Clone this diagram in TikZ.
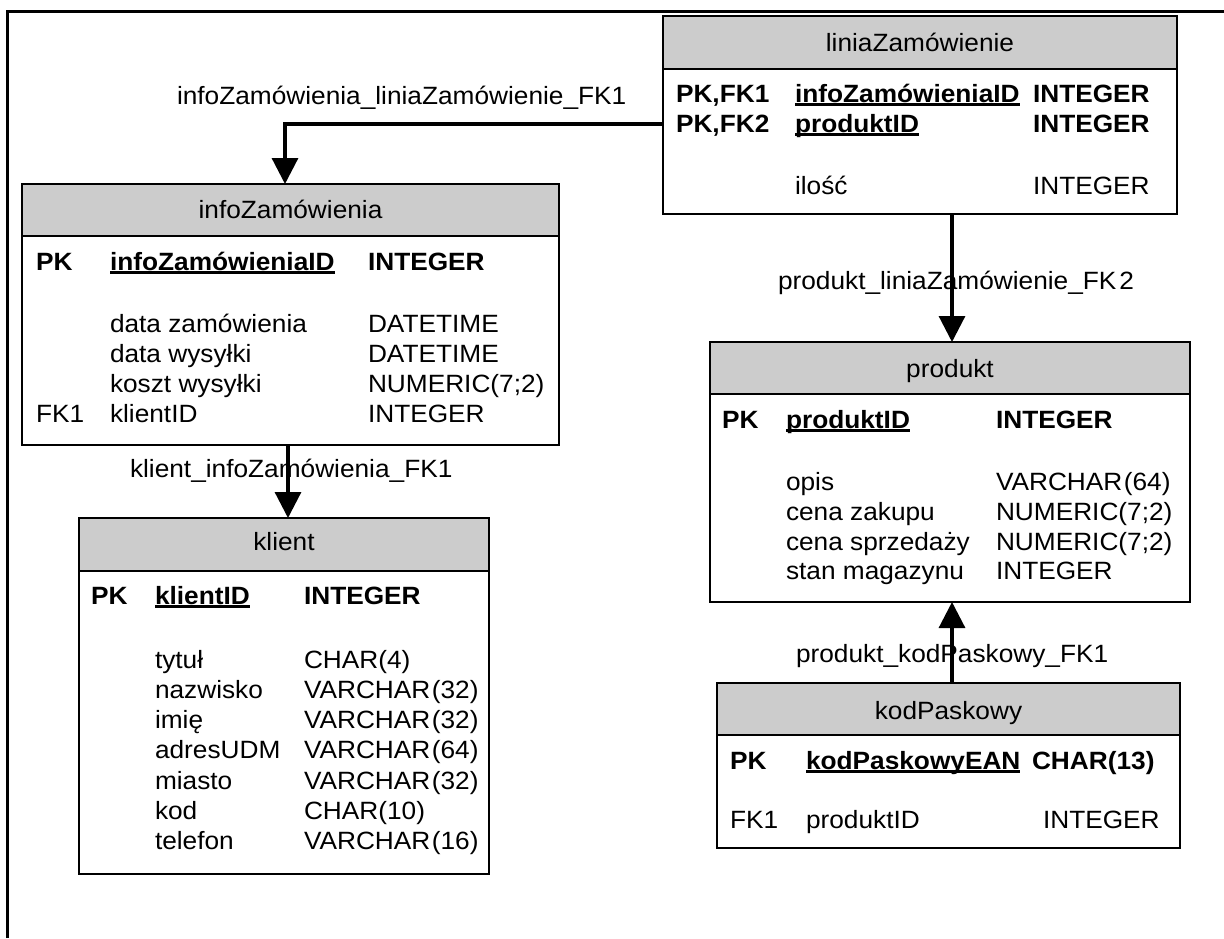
\documentclass[tikz,border=0pt]{standalone}
\usepackage{fontspec}
\setmainfont{Liberation Sans}[FakeStretch=1.05]
\usetikzlibrary{arrows.meta}
\definecolor{hdrgray}{RGB}{204,204,204}
% underlined column name (primary key)
\newcommand\ulname[1]{\setbox0=\hbox{#1}\rlap{\rule[-3.5pt]{\wd0}{2.2pt}}\box0}
\newcommand\vch{VARCHAR\kern1.5pt}
\begin{document}
\begin{tikzpicture}[x=1pt,y=-1pt,
  every node/.style={font=\fontsize{25}{30}\selectfont, inner sep=0pt, outer sep=0pt},
  tablebox/.style={draw=black, line width=2pt, fill=white, rectangle, anchor=north west},
  headbox/.style={draw=black, line width=2pt, fill=hdrgray, rectangle, anchor=north west, minimum height=52pt},
  hdr/.style={anchor=base},
  cell/.style={anchor=base west},
  fk/.style={line width=3.2pt, -{Triangle[length=26pt,width=26pt]}},
  frame/.style={line width=2.5pt}]
\useasboundingbox (0,0) rectangle (1224,938);

% outer frame
\draw[frame] (7.5,938) -- (7.5,11.5) -- (1224,11.5);

% ---------- liniaZamówienie ----------
\node[tablebox, minimum width=514pt, minimum height=198pt] (lz) at (663,16) {};
\node[headbox, minimum width=514pt, minimum height=53pt] (lzH) at (lz.north west) {};
\node[hdr] (lzT) at ([yshift=-35pt]lzH.north) {liniaZamówienie};
\node[cell] (lz11) at (676,102) {\textbf{PK,FK1}};
\node[cell] (lz12) at (795,102) {\ulname{\textbf{infoZamówieniaID}}};
\node[cell] (lz13) at (1033,102) {\textbf{INTEGER}};
\node[cell] (lz21) at (676,132) {\textbf{PK,FK2}};
\node[cell] (lz22) at (795,132) {\ulname{\textbf{produktID}}};
\node[cell] (lz23) at (1033,132) {\textbf{INTEGER}};
\node[cell] (lz32) at (795,194) {ilość};
\node[cell] (lz33) at (1033,194) {INTEGER};

% ---------- infoZamówienia ----------
\node[tablebox, minimum width=537pt, minimum height=261pt] (info) at (22,184) {};
\node[headbox, minimum width=537pt] (infoH) at (info.north west) {};
\node[hdr] (infoT) at ([yshift=-34pt]infoH.north) {infoZamówienia};
\node[cell] (in11) at (36,270) {\textbf{PK}};
\node[cell] (in12) at (110,270) {\ulname{\textbf{infoZamówieniaID}}};
\node[cell] (in13) at (368,270) {\textbf{INTEGER}};
\node[cell] (in22) at (110,332) {data zamówienia};
\node[cell] (in23) at (368,332) {DATETIME};
\node[cell] (in32) at (110,362) {data wysyłki};
\node[cell] (in33) at (368,362) {DATETIME};
\node[cell] (in42) at (110,392) {koszt wysyłki};
\node[cell] (in43) at (368,392) {NUMERIC(7;2)};
\node[cell] (in51) at (36,422) {FK1};
\node[cell] (in52) at (110,422) {klientID};
\node[cell] (in53) at (368,422) {INTEGER};

% ---------- klient ----------
\node[tablebox, minimum width=410pt, minimum height=356pt] (kl) at (79,518) {};
\node[headbox, minimum width=410pt, minimum height=53pt] (klH) at (kl.north west) {};
\node[hdr] (klT) at ([yshift=-32pt]klH.north) {klient};
\node[cell] (k11) at (91,604) {\textbf{PK}};
\node[cell] (k12) at (155,604) {\ulname{\textbf{klientID}}};
\node[cell] (k13) at (304,604) {\textbf{INTEGER}};
\node[cell] (k22) at (155,668) {tytuł};
\node[cell] (k23) at (304,668) {CHAR(4)};
\node[cell] (k32) at (155,698) {nazwisko};
\node[cell] (k33) at (304,698) {\vch(32)};
\node[cell] (k42) at (155,728.5) {imię};
\node[cell] (k43) at (304,728.5) {\vch(32)};
\node[cell] (k52) at (155,758.5) {adresUDM};
\node[cell] (k53) at (304,758.5) {\vch(64)};
\node[cell] (k62) at (155,789) {miasto};
\node[cell] (k63) at (304,789) {\vch(32)};
\node[cell] (k72) at (155,819) {kod};
\node[cell] (k73) at (304,819) {CHAR(10)};
\node[cell] (k82) at (155,849) {telefon};
\node[cell] (k83) at (304,849) {\vch(16)};

% ---------- produkt ----------
\node[tablebox, minimum width=480pt, minimum height=260pt] (pr) at (710,342) {};
\node[headbox, minimum width=480pt] (prH) at (pr.north west) {};
\node[hdr] (prT) at ([yshift=-35pt]prH.north) {produkt};
\node[cell] (p11) at (722,428) {\textbf{PK}};
\node[cell] (p12) at (786,428) {\ulname{\textbf{produktID}}};
\node[cell] (p13) at (996,428) {\textbf{INTEGER}};
\node[cell] (p22) at (786,490) {opis};
\node[cell] (p23) at (996,490) {\vch(64)};
\node[cell] (p32) at (786,520) {cena zakupu};
\node[cell] (p33) at (996,520) {NUMERIC(7;2)};
\node[cell] (p42) at (786,550) {cena sprzedaży};
\node[cell] (p43) at (996,550) {NUMERIC(7;2)};
\node[cell] (p52) at (786,579) {stan magazynu};
\node[cell] (p53) at (996,579) {INTEGER};

% ---------- kodPaskowy ----------
\node[tablebox, minimum width=463pt, minimum height=165pt] (kp) at (717,683) {};
\node[headbox, minimum width=463pt] (kpH) at (kp.north west) {};
\node[hdr] (kpT) at ([yshift=-36pt]kpH.north) {kodPaskowy};
\node[cell] (c11) at (730,769) {\textbf{PK}};
\node[cell] (c12) at (806,769) {\ulname{\textbf{kodPaskowyEAN}}};
\node[cell] (c13) at (1032,769) {\textbf{CHAR(13)}};
\node[cell] (c21) at (730,828) {FK1};
\node[cell] (c22) at (806,828) {produktID};
\node[cell] (c23) at (1043,828) {INTEGER};

% ---------- relationship labels ----------
\node[cell] (l1) at (177,104) {infoZamówienia\_liniaZamówienie\_FK1};
\node[cell] (l2) at (130,477) {klient\_infoZamówienia\_FK1};
\node[cell] (l3) at (778,289) {produkt\_liniaZamówienie\_FK\kern3pt2};
\node[cell] (l4) at (796,662) {produkt\_kodPaskowy\_FK1};

% ---------- relationships ----------
\draw[fk] ([yshift=-108pt]lz.north west) -| ([xshift=-5.5pt]infoH.north);
\draw[fk] ([xshift=-2.5pt]info.south) -- ([xshift=-2.5pt]info.south |- klH.north);
\draw[fk] ([xshift=32pt]lz.south) -- ([xshift=32pt]lz.south |- prH.north);
\draw[fk] ([xshift=3.5pt]kpH.north) -- ([xshift=3.5pt]kpH.north |- pr.south);
\end{tikzpicture}
\end{document}
